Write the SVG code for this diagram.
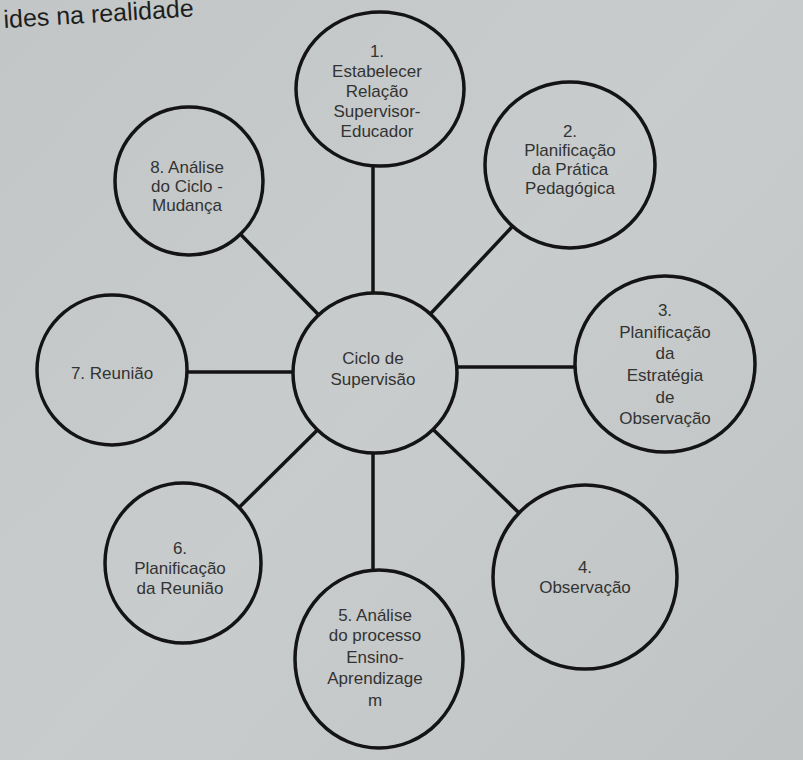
<svg xmlns="http://www.w3.org/2000/svg" width="803" height="760" viewBox="0 0 803 760">
<defs>
<linearGradient id="bg" gradientUnits="userSpaceOnUse" x1="0" y1="0" x2="803" y2="760">
<stop offset="0" stop-color="#c2c6c6"/>
<stop offset="0.5" stop-color="#c8cccc"/>
<stop offset="1" stop-color="#c0c4c4"/>
</linearGradient>
</defs>
<style>
.n{fill:url(#bg);stroke:#141414;stroke-width:3.5}
.c line{stroke:#141414;stroke-width:3.5}
text{font-family:"Liberation Sans",Arial,sans-serif;font-size:17px;fill:#333;text-anchor:middle}
.hdr{font-size:25px;fill:#1e1e1e;text-anchor:start}
</style>
<rect width="803" height="760" fill="url(#bg)"/>
<text class="hdr" x="4" y="28" transform="rotate(-3.5 4 28)">ides na realidade</text>
<g id="connectors" class="c">
<line x1="373" y1="160" x2="373" y2="300"/>
<line x1="375" y1="373" x2="570" y2="165"/>
<line x1="450" y1="367" x2="580" y2="367"/>
<line x1="375" y1="373" x2="585" y2="577"/>
<line x1="373" y1="445" x2="373" y2="575"/>
<line x1="375" y1="373" x2="183" y2="563"/>
<line x1="180" y1="372" x2="300" y2="372"/>
<line x1="375" y1="373" x2="189" y2="181"/>
</g>
<g id="center">
<ellipse class="n" cx="375" cy="373" rx="82" ry="80"/>
<text x="373" y="364">Ciclo de</text>
<text x="373" y="385">Supervisão</text>
</g>
<g id="n1">
<ellipse class="n" cx="380" cy="89" rx="84" ry="77"/>
<text x="377" y="57">1.</text>
<text x="377" y="77">Estabelecer</text>
<text x="377" y="97">Relação</text>
<text x="377" y="117">Supervisor-</text>
<text x="377" y="137">Educador</text>
</g>
<g id="n2">
<ellipse class="n" cx="570" cy="165" rx="85" ry="83"/>
<text x="570" y="137">2.</text>
<text x="570" y="156">Planificação</text>
<text x="570" y="175">da Prática</text>
<text x="570" y="194">Pedagógica</text>
</g>
<g id="n3">
<ellipse class="n" cx="665" cy="364" rx="90" ry="88"/>
<text x="665" y="316">3.</text>
<text x="665" y="338">Planificação</text>
<text x="665" y="359">da</text>
<text x="665" y="381">Estratégia</text>
<text x="665" y="403">de</text>
<text x="665" y="424">Observação</text>
</g>
<g id="n4">
<ellipse class="n" cx="585" cy="577" rx="92" ry="92"/>
<text x="585" y="573">4.</text>
<text x="585" y="593">Observação</text>
</g>
<g id="n5">
<ellipse class="n" cx="379" cy="659" rx="84" ry="89"/>
<text x="375" y="621">5. Análise</text>
<text x="375" y="641">do processo</text>
<text x="375" y="663">Ensino-</text>
<text x="375" y="684">Aprendizage</text>
<text x="375" y="706">m</text>
</g>
<g id="n6">
<ellipse class="n" cx="183" cy="563" rx="78" ry="80"/>
<text x="180" y="554">6.</text>
<text x="180" y="574">Planificação</text>
<text x="180" y="594">da Reunião</text>
</g>
<g id="n7">
<ellipse class="n" cx="112" cy="370" rx="75" ry="75"/>
<text x="112" y="379">7. Reunião</text>
</g>
<g id="n8">
<ellipse class="n" cx="189" cy="181" rx="74" ry="74"/>
<text x="187" y="173">8. Análise</text>
<text x="187" y="192">do Ciclo -</text>
<text x="187" y="211">Mudança</text>
</g>
</svg>
